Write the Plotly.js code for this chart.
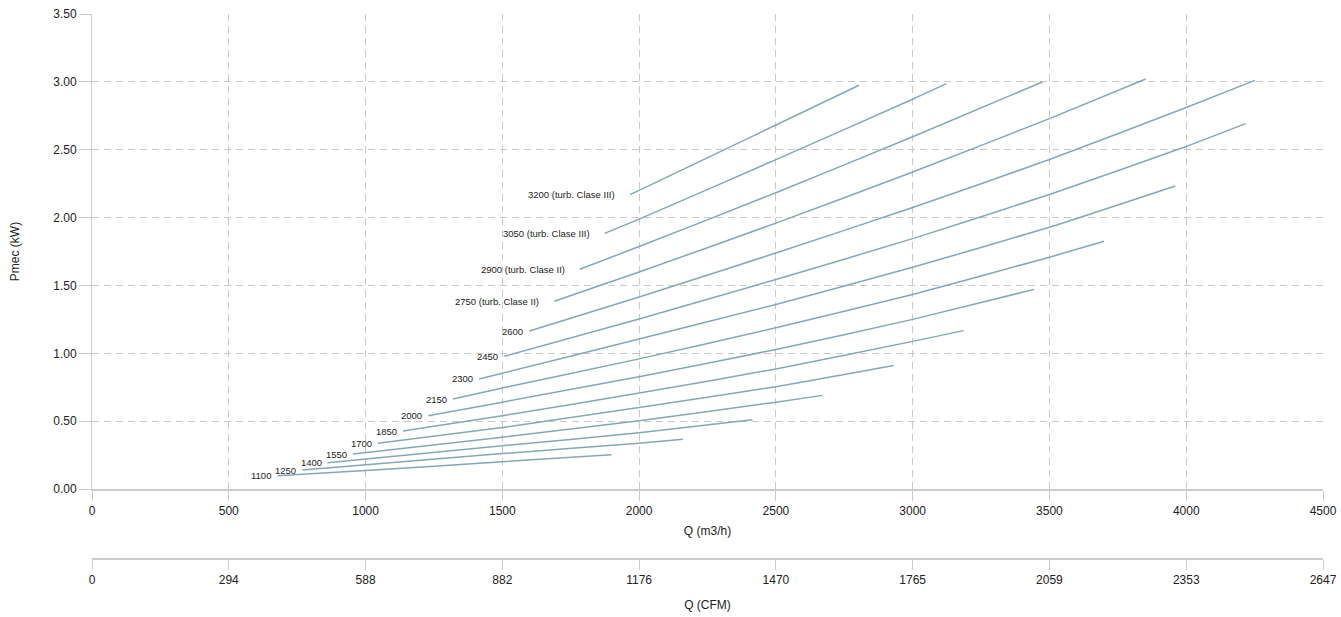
<!DOCTYPE html>
<html>
<head>
<meta charset="utf-8">
<script src="https://cdn.plot.ly/plotly-3.0.1.min.js"></script>
<style>html,body{margin:0;padding:0;background:#fff;}#chart{width:1341px;height:617px;}</style>
</head>
<body>
<div id="chart"></div>
<script>
// Curve labels (rpm)
const curveLabels = ["1100","1250","1400","1550","1700","1850","2000","2150","2300","2450","2600",
  "2750 (turb. Clase II)","2900 (turb. Clase II)","3050 (turb. Clase III)","3200 (turb. Clase III)"];

// Q (m3/h) and Pmec (kW) per curve
const q1100 = [678, 1000, 1500, 1899];              const p1100 = [0.098, 0.136, 0.201, 0.253];
const q1250 = [769, 1500, 2000, 2160];              const p1250 = [0.140, 0.261, 0.337, 0.366];
const q1400 = [861, 1500, 2000, 2414];              const p1400 = [0.194, 0.319, 0.414, 0.510];
const q1550 = [954, 1500, 2000, 2500, 2670];        const p1550 = [0.258, 0.382, 0.503, 0.640, 0.690];
const q1700 = [1045, 1500, 2000, 2500, 2930];       const p1700 = [0.337, 0.453, 0.601, 0.754, 0.910];
const q1850 = [1137, 1500, 2000, 2500, 3000, 3186]; const p1850 = [0.427, 0.540, 0.707, 0.885, 1.088, 1.167];
const q2000 = [1229, 1500, 2000, 2500, 3000, 3444]; const p2000 = [0.540, 0.640, 0.828, 1.028, 1.250, 1.471];
const q2150 = [1320, 1500, 2000, 2500, 3000, 3500, 3700]; const p2150 = [0.663, 0.745, 0.959, 1.188, 1.434, 1.708, 1.825];
const q2300 = [1415, 1500, 2000, 2500, 3000, 3500, 3960]; const p2300 = [0.811, 0.853, 1.105, 1.360, 1.634, 1.929, 2.233];
const q2450 = [1507, 2000, 2500, 3000, 3500, 4000, 4217]; const p2450 = [0.978, 1.253, 1.544, 1.845, 2.170, 2.524, 2.692];
const q2600 = [1599, 2000, 2500, 3000, 3500, 4000, 4251]; const p2600 = [1.164, 1.415, 1.739, 2.074, 2.428, 2.811, 3.011];
const q2750 = [1690, 2000, 2500, 3000, 3500, 3852]; const p2750 = [1.383, 1.599, 1.959, 2.336, 2.729, 3.021];
const q2900 = [1783, 2000, 2500, 3000, 3474];       const p2900 = [1.619, 1.787, 2.183, 2.596, 2.999];
const q3050 = [1874, 2000, 2500, 3000, 3123];       const p3050 = [1.884, 1.989, 2.427, 2.872, 2.987];
const q3200 = [1967, 2000, 2500, 2804];             const p3200 = [2.169, 2.200, 2.682, 2.975];

// Axis ticks
const qTicks = [0, 500, 1000, 1500, 2000, 2500, 3000, 3500, 4000, 4500];
const cfmTickText = ["0","294","588","882","1176","1470","1765","2059","2353","2647"];

const qSeries = [q1100,q1250,q1400,q1550,q1700,q1850,q2000,q2150,q2300,q2450,q2600,q2750,q2900,q3050,q3200];
const pSeries = [p1100,p1250,p1400,p1550,p1700,p1850,p2000,p2150,p2300,p2450,p2600,p2750,p2900,p3050,p3200];

const FONT = "Liberation Sans, Arial, Helvetica, sans-serif";
const LINE_COLOR = "#86a7b3";
const GRID = "#c9c9c9";
const AXIS = "#cccccc";
const TXT = "#222222";

const traces = qSeries.map((q, i) => ({
  type: "scatter", mode: "lines", x: q, y: pSeries[i],
  name: curveLabels[i], showlegend: false, hoverinfo: "skip",
  line: {color: LINE_COLOR, width: 1.5, shape: "spline", smoothing: 0.5},
  xaxis: "x", yaxis: "y"
}));
// carrier for the secondary (CFM) axis
traces.push({type: "scatter", mode: "lines", x: [qTicks[0], qTicks[qTicks.length-1]], y: [null, null],
  xaxis: "x2", yaxis: "y", showlegend: false, hoverinfo: "skip"});

const annotations = qSeries.map((q, i) => ({
  x: q[0], y: pSeries[i][0], xref: "x", yref: "y",
  text: curveLabels[i], showarrow: false,
  xanchor: "right", yanchor: "middle",
  xshift: curveLabels[i].length > 4 ? -13 : -4,
  font: {family: FONT, size: 9.5, color: TXT}
}));

const layout = {
  width: 1341, height: 617,
  margin: {l: 92, r: 18, t: 14, b: 58},
  paper_bgcolor: "#ffffff", plot_bgcolor: "#ffffff",
  font: {family: FONT, size: 12, color: TXT},
  showlegend: false,
  annotations: annotations,
  xaxis: {
    range: [0, 4500], tickvals: qTicks, ticktext: qTicks.map(String),
    showgrid: true, gridcolor: GRID, gridwidth: 1, griddash: "7px,5px",
    zeroline: false, showline: true, linecolor: AXIS, linewidth: 2,
    ticks: "outside", ticklen: 10, tickcolor: AXIS, tickwidth: 1,
    tickfont: {family: FONT, size: 12, color: TXT},
    title: {text: "Q (m3/h)", font: {family: FONT, size: 12, color: TXT}, standoff: 9},
    anchor: "y", fixedrange: true
  },
  xaxis2: {
    overlaying: "x", anchor: "free", position: 0, side: "bottom",
    range: [0, 4500], tickvals: qTicks, ticktext: cfmTickText,
    showgrid: false, zeroline: false, showline: true, linecolor: AXIS, linewidth: 2,
    ticks: "outside", ticklen: 10, tickcolor: AXIS, tickwidth: 1,
    tickfont: {family: FONT, size: 12, color: TXT},
    title: {text: "Q (CFM)", font: {family: FONT, size: 12, color: TXT}, standoff: 13},
    fixedrange: true
  },
  yaxis: {
    domain: [0.1284, 1], range: [0, 3.5], dtick: 0.5, tick0: 0, tickformat: ".2f",
    showgrid: true, gridcolor: GRID, gridwidth: 1, griddash: "7px,5px",
    zeroline: false, showline: true, linecolor: AXIS, linewidth: 1,
    ticks: "outside", ticklen: 12, tickcolor: AXIS, tickwidth: 1,
    tickfont: {family: FONT, size: 12, color: TXT},
    title: {text: "Pmec (kW)", font: {family: FONT, size: 12, color: TXT}, standoff: 31},
    fixedrange: true
  }
};

Plotly.newPlot("chart", traces, layout, {displayModeBar: false, staticPlot: true});
</script>
</body>
</html>
